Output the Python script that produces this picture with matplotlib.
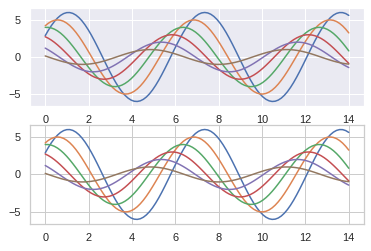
"""
Two stacked sine-wave panels: darkgrid style on top, whitegrid below.
"""

import numpy as np
import matplotlib
matplotlib.use("Agg")   # no display needed
import matplotlib.pyplot as plt
import seaborn as sns

# ── Data ─────────────────────────────────────────────────────────
x_start, x_stop, n_points = 0, 14, 100
amplitudes = [6, 5, 4, 3, 2, 1]
phase_shifts = [0.5, 1.0, 1.5, 2.0, 2.5, 3.0]
y_ticks = [-5, 0, 5]
x_ticks = [0, 2, 4, 6, 8, 10, 12, 14]


def draw_waves(ax):
    x = np.linspace(x_start, x_stop, n_points)
    for amp, shift in zip(amplitudes, phase_shifts):
        ax.plot(x, amp * np.sin(x + shift), lw=1.5)
    ax.set_xticks(x_ticks)
    ax.set_yticks(y_ticks)


sns.set_theme(context="notebook")
plt.rcParams["font.family"] = ["Liberation Sans", "DejaVu Sans"]
fig = plt.figure(figsize=(371 / 72, 251 / 72), dpi=72)

with sns.axes_style("darkgrid", rc={"font.family": ["Liberation Sans", "DejaVu Sans"]}):
    ax_top = fig.add_axes([0.081, 0.578, 0.900, 0.390])
    draw_waves(ax_top)

with sns.axes_style("whitegrid", rc={"font.family": ["Liberation Sans", "DejaVu Sans"]}):
    ax_bot = fig.add_axes([0.081, 0.108, 0.900, 0.394])
    draw_waves(ax_bot)

fig.savefig("out.png", dpi=72)
plt.close(fig)
